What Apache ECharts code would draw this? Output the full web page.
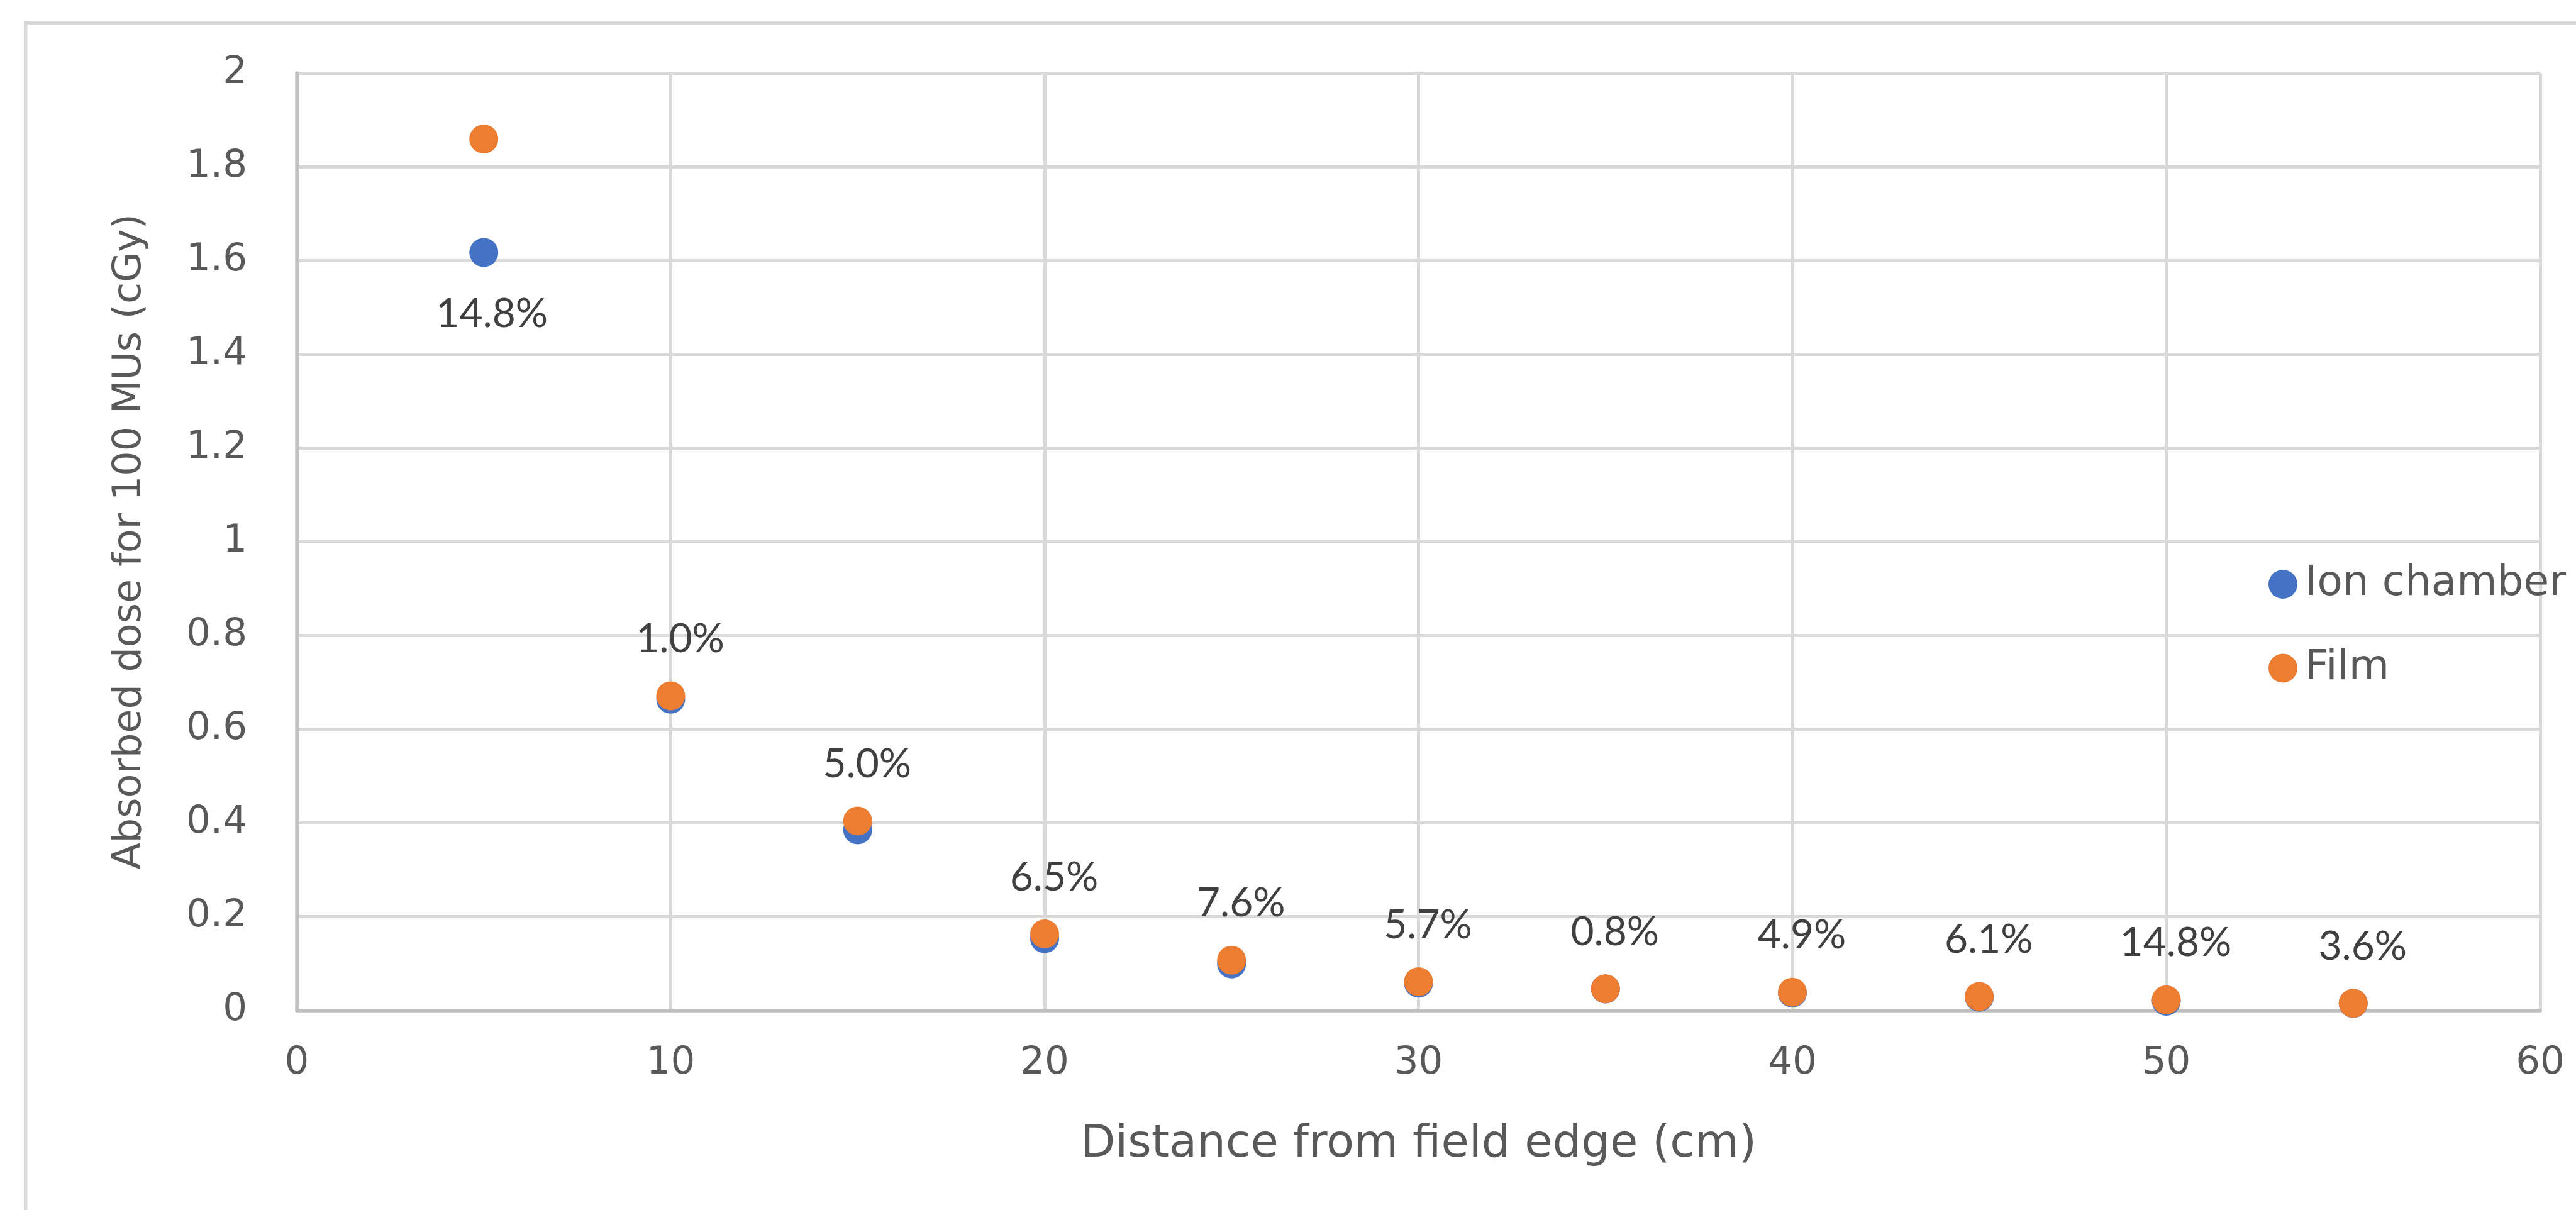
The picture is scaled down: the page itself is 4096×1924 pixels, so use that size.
<!DOCTYPE html>
<html>
<head>
<meta charset="utf-8">
<script src="https://cdn.jsdelivr.net/npm/echarts@6/dist/echarts.min.js"></script>
<style>
  html, body { margin: 0; padding: 0; background: #fff; }
  #main { width: 4096px; height: 1924px; }
</style>
</head>
<body>
<div id="main"></div>
<script>
// distance from field edge (cm)
const distances = [5, 10, 15, 20, 25, 30, 35, 40, 45, 50, 55];
// absorbed dose for 100 MUs (cGy)
const ionChamber = [1.617, 0.664, 0.385, 0.153, 0.099, 0.058, 0.0456, 0.0368, 0.0279, 0.0195, 0.0147];
const film = [1.859, 0.671, 0.404, 0.163, 0.107, 0.061, 0.046, 0.0386, 0.0296, 0.0224, 0.0152];
// difference labels
const diffLabels = ['14.8%', '1.0%', '5.0%', '6.5%', '7.6%', '5.7%', '0.8%', '4.9%', '6.1%', '14.8%', '3.6%'];

const LABEL_FONT = 'Lato';
const AXIS_FONT = 'DejaVu Sans';
const AXIS_GREY = '#595959';
const GRID_GREY = '#d9d9d9';

const chart = echarts.init(document.getElementById('main'), null, { renderer: 'canvas' });

const labelStyle = {
  color: '#404040',
  fontFamily: LABEL_FONT,
  fontSize: 64
};

// first label sits under the ion chamber point, the rest above the film points
const ionData = ionChamber.map((v, i) => {
  if (i === 0) {
    return {
      value: [distances[i], v],
      label: Object.assign({
        show: true,
        position: 'bottom',
        distance: 43,
        offset: [13, 0],
        formatter: diffLabels[i]
      }, labelStyle)
    };
  }
  return [distances[i], v];
});

const filmData = film.map((v, i) => {
  if (i === 0) {
    return { value: [distances[i], v], label: { show: false } };
  }
  return [distances[i], v];
});

const option = {
  backgroundColor: '#fff',
  animation: false,
  graphic: [
    {
      type: 'rect',
      left: 38,
      top: 34,
      shape: { width: 5000, height: 3000 },
      style: { fill: 'none', stroke: GRID_GREY, lineWidth: 5.5 },
      silent: true
    }
  ],
  grid: {
    left: 472,
    right: 57,
    top: 116,
    bottom: 317.5,
    containLabel: false,
    outerBoundsMode: 'none'
  },
  legend: {
    orient: 'vertical',
    left: 3607,
    top: 896,
    padding: 0,
    itemWidth: 46,
    itemHeight: 46,
    itemGap: 67.5,
    icon: 'circle',
    textStyle: {
      fontFamily: AXIS_FONT,
      fontSize: 66,
      color: AXIS_GREY,
      padding: [0, 0, 0, 7]
    },
    data: ['Ion chamber', 'Film']
  },
  xAxis: {
    type: 'value',
    min: 0,
    max: 60,
    interval: 10,
    name: 'Distance from field edge (cm)',
    nameLocation: 'middle',
    nameGap: 178,
    nameTextStyle: { fontFamily: AXIS_FONT, fontSize: 72, color: AXIS_GREY },
    axisLine: { show: true, lineStyle: { color: '#bfbfbf', width: 5.5 } },
    axisTick: { show: false },
    axisLabel: { fontFamily: AXIS_FONT, fontSize: 61, color: AXIS_GREY, margin: 54 },
    splitLine: { show: true, lineStyle: { color: GRID_GREY, width: 5 } }
  },
  yAxis: {
    type: 'value',
    min: 0,
    max: 2,
    interval: 0.2,
    name: 'Absorbed dose for 100 MUs (cGy)',
    nameLocation: 'middle',
    nameGap: 234,
    nameTextStyle: { fontFamily: AXIS_FONT, fontSize: 62, color: AXIS_GREY },
    axisLine: { show: true, lineStyle: { color: '#bfbfbf', width: 5.5 } },
    axisTick: { show: false },
    axisLabel: { fontFamily: AXIS_FONT, fontSize: 61, color: AXIS_GREY, margin: 79 },
    splitLine: { show: true, lineStyle: { color: GRID_GREY, width: 5 } }
  },
  series: [
    {
      name: 'Ion chamber',
      type: 'scatter',
      symbol: 'circle',
      symbolSize: 46,
      itemStyle: { color: '#4472c4', opacity: 1 },
      data: ionData
    },
    {
      name: 'Film',
      type: 'scatter',
      symbol: 'circle',
      symbolSize: 46,
      itemStyle: { color: '#ed7d31', opacity: 1 },
      label: Object.assign({
        show: true,
        position: 'top',
        distance: 35,
        offset: [15, 0],
        formatter: (p) => diffLabels[p.dataIndex]
      }, labelStyle),
      data: filmData
    }
  ]
};

chart.setOption(option);
</script>
</body>
</html>
